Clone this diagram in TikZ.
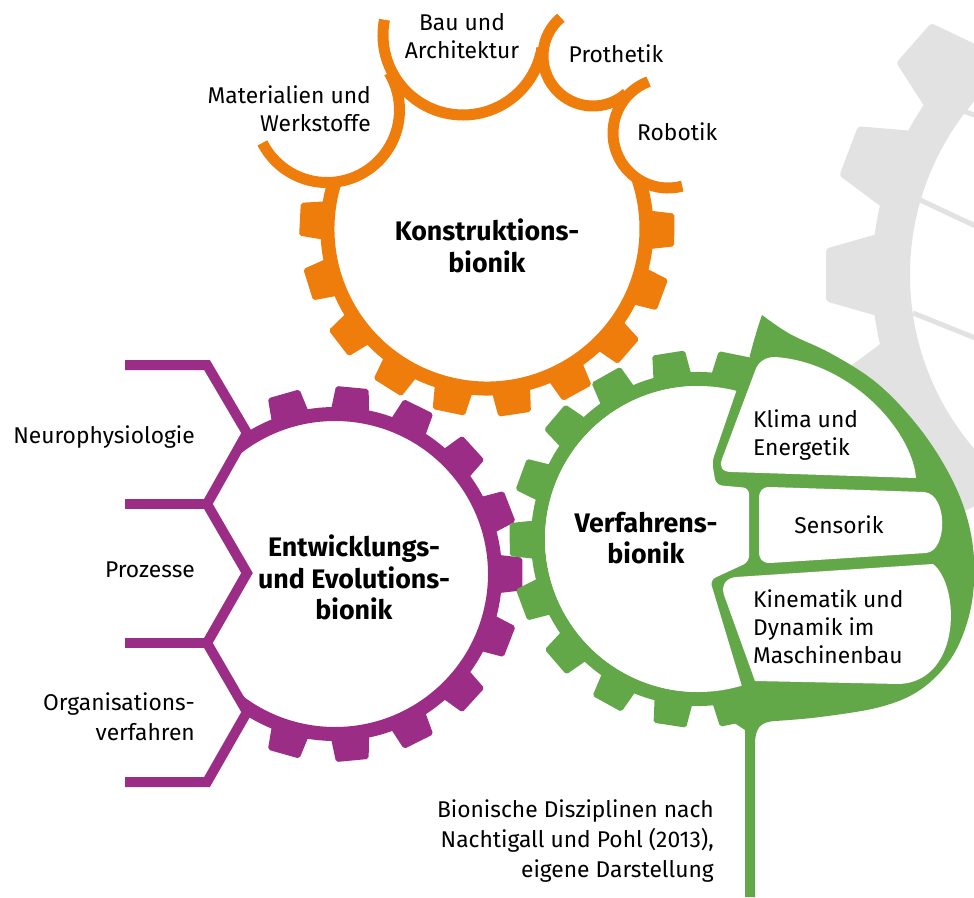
\documentclass[tikz,border=0pt]{standalone}
\usepackage{fontspec}
\setmainfont{Fira Sans}
\definecolor{cOr}{RGB}{238,125,12}
\definecolor{cPu}{RGB}{156,45,135}
\definecolor{cGr}{RGB}{99,168,72}
\definecolor{cGy}{RGB}{226,226,226}
\tikzset{
  txt/.style={font=\fontsize{22.8}{28}\selectfont, inner sep=0pt, text=black},
  txtw/.style={font=\fontsize{22.8}{30}\selectfont, inner sep=0pt, text=black},
  ttl/.style={font=\bfseries\fontsize{26.8}{29}\selectfont, inner sep=0pt, align=center, anchor=north, text=black},
  toothshape/.style={rounded corners=2pt},
  subarc/.style={cOr, line width=11pt},
}
\begin{document}
\begin{tikzpicture}[x=1pt,y=-1pt]
\useasboundingbox (0,0) rectangle (974,897);
\clip (0,0) rectangle (974,897);

% ---------- gray gear (background) ----------
\begin{scope}[shift={(1177,275)}]
  \draw[cGy, line width=38pt] (0,0) circle[radius=286];
  \foreach \a in {117.9,138.6,159.3,180,200.7,221.4,242.1}
    \fill[cGy, rounded corners=3pt] ({\a-8}:300) -- ({\a-4.3}:352) -- ({\a+4.3}:352) -- ({\a+8}:300) -- cycle;
\end{scope}
\draw[cGy, line width=5pt] (960,110) -- (1000,124);
\draw[cGy, line width=5pt] (918,199) -- (1000,237.5);
\draw[cGy, line width=5pt] (913,313) -- (1000,348);

% ---------- orange gear ----------
\begin{scope}[shift={(487,229)}]
  \draw[cOr, line width=14pt] (197:159.5) arc[start angle=197, end angle=-17.8, radius=159.5];
  \foreach \a in {183,162.7,142.4,122.1,101.8,81.5,61.2,40.9,20.6,0.3}
    \fill[cOr, toothshape] ({\a-6.8}:163) -- ({\a-5}:188) -- ({\a+5}:188) -- ({\a+6.8}:163) -- cycle;
\end{scope}
\draw[subarc] (327,110) ++(153:72.5) arc[start angle=153, end angle=-31, radius=72.5];
\draw[subarc] (463,35) ++(191:80) arc[start angle=191, end angle=9.5, radius=80];
\draw[subarc] (593,56) ++(230:50) arc[start angle=230, end angle=48, radius=50];
\draw[subarc] (668,133) ++(249.3:55) arc[start angle=249.3, end angle=75, radius=55];

% ---------- purple gear ----------
\begin{scope}
  \clip (247,300) -- (247,433) -- (207,504) -- (247,573) -- (207,643) -- (247,712) -- (247,850) -- (620,850) -- (620,300) -- cycle;
  \begin{scope}[shift={(335,574)}]
    \draw[cPu, line width=14pt] (-132:160) arc[start angle=-132, end angle=132, radius=160];
    \foreach \a in {-105.9,-84.7,-63.5,-42.4,-21.2,0,21.2,42.4,63.5,84.7,105.9}
      \fill[cPu, toothshape] ({\a-6.8}:163) -- ({\a-5}:188) -- ({\a+5}:188) -- ({\a+6.8}:163) -- cycle;
  \end{scope}
\end{scope}
\draw[cPu, line width=10pt, line join=miter] (125,365) -- (207,365) -- (247,433) -- (207,504) -- (247,573) -- (207,643) -- (247,712) -- (207,782) -- (125,782);
\draw[cPu, line width=10pt] (125,504) -- (210,504);
\draw[cPu, line width=10pt] (125,643) -- (210,643);

% ---------- green gear with leaf ----------
\fill[cGr] (600,540) -- (700,380) -- (748,365) -- (750,355) .. controls (754,340) and (758,326) .. (762,315)
  -- plot[smooth, tension=0.6] coordinates {(762,315) (790,334) (830,353) (873,380) (907,413) (937,453) (960,497) (972,540) (974,583) (967,623) (950,660) (920,690) (880,707) (820,717) (775,721)}
  .. controls (760,722) and (755,728) .. (755,745) -- (755,897) -- (745,897) -- (745,730) -- (730,720) -- (705,690) -- cycle;
\begin{scope}[shift={(698,539)}]
  \draw[cGr, line width=14pt] (-73:160) arc[start angle=-73, end angle=-284, radius=160];
  \foreach \a in {-78.7,-99,-119.3,-139.6,-159.9,-180.2,-200.5,-220.8,-241.1,-261.4,-281.7}
    \fill[cGr, toothshape] ({\a-6.8}:163) -- ({\a-5}:189) -- ({\a+5}:189) -- ({\a+6.8}:163) -- cycle;
\end{scope}
\begin{scope}
  \clip[rounded corners=6pt] (500,330) -- (752,345) -- (712,462) -- (716,485) -- (749,488) -- (749,562) -- (710,580) -- (746,700) -- (500,760) -- cycle;
  \fill[white] (698,539) circle[radius=153];
\end{scope}
% cells
\fill[white] (775,357) .. controls (850,362) and (912,430) .. (916,478) -- (732,472)
  .. controls (722,472) and (719,467) .. (722,459) -- (755,371) .. controls (758,362) and (765,357) .. (775,357) -- cycle;
\fill[white] (770,487) -- (924,492) .. controls (948,494) and (948,551) .. (926,553) -- (770,563)
  .. controls (762,563) and (759,559) .. (759,551) -- (759,499) .. controls (759,491) and (762,487) .. (770,487) -- cycle;
\fill[white] (736,577) -- (933,564) .. controls (960,585) and (962,680) .. (900,684) -- (755,681)
  -- (724,595) .. controls (721,585) and (726,578) .. (736,577) -- cycle;

% ---------- texts ----------
\node[ttl] (konst) at (487,218.7) {\strut Konstruktions-\\\strut bionik};
\node[ttl] (entw) at (354,534.7) {\strut Entwicklungs-\\\strut und Evolutions-\\\strut bionik};
\node[ttl] (verf) at (646,511.7) {\strut Verfahrens-\\\strut bionik};

\node[txt, align=center, anchor=north] (bau) at (462,10.4) {\strut Bau und\\\strut Architektur};
\node[txt, anchor=north] (proth) at (616,42.4) {\strut Prothetik};
\node[txt, align=right, anchor=north east] (mat) at (371,83.4) {\strut Materialien und\\\strut Werkstoffe};
\node[txt, anchor=north west] (robo) at (637,120.4) {\strut Robotik};

\node[txt, anchor=north east] (neuro) at (195,423.4) {\strut Neurophysiologie};
\node[txt, anchor=north east] (proz) at (195,557.4) {\strut Prozesse};
\node[txtw, align=right, anchor=north east] (orga) at (195,689) {\strut Organisations-\\\strut verfahren};

\node[txt, align=left, anchor=north west] (klima) at (753,407.4) {\strut Klima und\\\strut Energetik};
\node[txt, anchor=north] (sens) at (839,513.4) {\strut Sensorik};
\node[txt, align=left, anchor=north west] (kine) at (753,587.4) {\strut Kinematik und\\\strut Dynamik im\\\strut Maschinenbau};

\node[txtw, align=right, anchor=north east] (capt) at (714,796) {\strut Bionische Disziplinen nach\\\strut Nachtigall und Pohl (2013),\\\strut eigene Darstellung};
\end{tikzpicture}
\end{document}
